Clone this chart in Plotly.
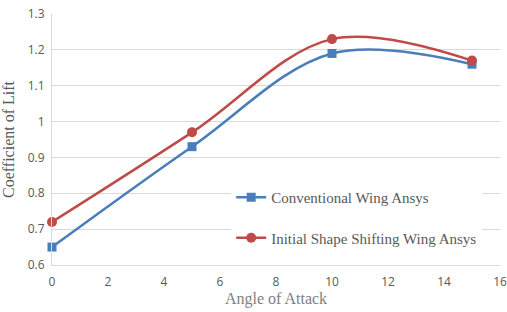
import plotly.graph_objects as go

angles = [0, 5, 10, 15]
conventional = [0.65, 0.93, 1.19, 1.16]
shape_shifting = [0.72, 0.97, 1.23, 1.17]
series_names = ["Conventional Wing Ansys", "Initial Shape Shifting Wing Ansys"]
x_ticks = list(range(0, 17, 2))
y_ticks = [0.6, 0.7, 0.8, 0.9, 1.0, 1.1, 1.2, 1.3]
y_tick_text = ["0.6", "0.7", "0.8", "0.9", "1", "1.1", "1.2", "1.3"]

serif = "Liberation Serif, DejaVu Serif, serif"

fig = go.Figure()
fig.add_trace(go.Scatter(
    x=angles, y=conventional, name=series_names[0], mode="lines+markers",
    legendgroup="a",
    line=dict(color="#4a7ebb", width=2.5, shape="spline", smoothing=1),
    marker=dict(symbol="square", size=9, color="#4a7ebb"), cliponaxis=False))
fig.add_trace(go.Scatter(
    x=angles, y=shape_shifting, name=series_names[1], mode="lines+markers",
    legendgroup="b",
    line=dict(color="#be4b48", width=2.5, shape="spline", smoothing=1),
    marker=dict(symbol="circle", size=10, color="#be4b48"), cliponaxis=False))

fig.update_layout(
    width=507, height=312, margin=dict(l=52, r=7, t=14, b=47),
    paper_bgcolor="white", plot_bgcolor="white",
    font=dict(family="Open Sans, Liberation Sans, Arial", color="#595959", size=12),
    xaxis=dict(range=[0, 16], tickvals=x_ticks, showgrid=False, showline=True,
               linecolor="#d9d9d9", linewidth=1, zeroline=False, ticks="",
               ticklabelstandoff=6, automargin=False,
               tickfont=dict(size=12, color="#595959"),
               title=dict(text="Angle of Attack", standoff=0,
                          font=dict(family=serif, size=16, color="#7f7f7f"))),
    yaxis=dict(range=[0.6, 1.3], tickvals=y_ticks, ticktext=y_tick_text,
               showgrid=True, gridcolor="#d9d9d9", showline=True,
               linecolor="#d9d9d9", linewidth=1, zeroline=False, ticks="",
               ticklabelstandoff=4, automargin=False,
               tickfont=dict(size=12, color="#595959"),
               title=dict(text="Coefficient of Lift", standoff=10,
                          font=dict(family=serif, size=16, color="#595959"))),
    legend=dict(x=0.40, y=0.335, xanchor="left", yanchor="top",
                bgcolor="white", font=dict(family=serif, size=15, color="#595959"),
                traceorder="grouped", tracegroupgap=18),
    showlegend=True,
)
fig.write_html("out.html")
